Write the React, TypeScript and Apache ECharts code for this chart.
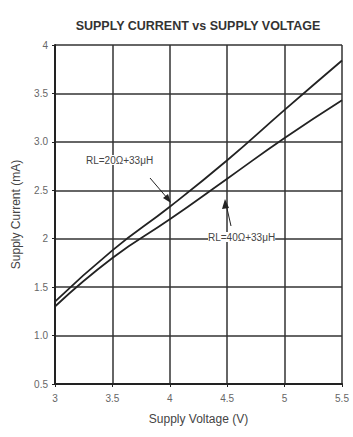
import React, { useEffect, useRef } from "react";
import * as echarts from "echarts";

const voltages = [3, 3.5, 4, 4.5, 5, 5.5];
const currentRL20 = [1.35, 1.88, 2.33, 2.81, 3.33, 3.84];
const currentRL40 = [1.3, 1.8, 2.2, 2.62, 3.04, 3.43];
const xTickLabels = ["3", "3.5", "4", "4.5", "5", "5.5"];
const yTickLabels: Record<string, string> = {
  "0.5": "0.5", "1": "1.0", "1.5": "1.5", "2": "2", "2.5": "2.5", "3": "3.0", "3.5": "3.5", "4": "4",
};

export default function App() {
  const ref = useRef<HTMLDivElement>(null);
  useEffect(() => {
    const chart = echarts.init(ref.current!, null, { renderer: "svg" });
    const font = "Liberation Sans";
    chart.setOption({
      animation: false,
      backgroundColor: "#ffffff",
      title: {
        text: "SUPPLY CURRENT vs SUPPLY VOLTAGE",
        left: 193, top: 14, textAlign: "center",
        textStyle: { fontSize: 12.5, fontWeight: "bold", color: "#333", fontFamily: font },
      },
      grid: { left: 55, right: 11, top: 45, bottom: 53 },
      xAxis: {
        type: "value", min: 3, max: 5.5, interval: 0.5,
        name: "Supply Voltage (V)", nameLocation: "middle", nameGap: 29,
        nameTextStyle: { fontSize: 12, color: "#444", fontFamily: font },
        axisLine: { lineStyle: { color: "#222", width: 2 } },
        axisTick: { show: true, length: 3, lineStyle: { color: "#222" } },
        axisLabel: {
          fontSize: 10, color: "#666", fontFamily: font, margin: 9,
          formatter: (v: number) => xTickLabels[voltages.indexOf(v)] ?? "",
        },
        splitLine: { show: true, lineStyle: { color: "#333", width: 1.5 } },
      },
      yAxis: {
        type: "value", min: 0.5, max: 4, interval: 0.5,
        name: "Supply Current (mA)", nameLocation: "middle", nameGap: 33,
        nameTextStyle: { fontSize: 12, color: "#444", fontFamily: font },
        axisLine: { show: true, lineStyle: { color: "#222", width: 2 } },
        axisTick: { show: true, length: 3, lineStyle: { color: "#222" } },
        axisLabel: {
          fontSize: 10, color: "#666", fontFamily: font, margin: 7,
          formatter: (v: number) => yTickLabels[String(v)] ?? String(v),
        },
        splitLine: { show: true, lineStyle: { color: "#333", width: 1.5 } },
      },
      series: [
        {
          name: "RL=20Ω+33μH", type: "line", smooth: true, showSymbol: false,
          data: voltages.map((v, i) => [v, currentRL20[i]]),
          lineStyle: { color: "#222", width: 1.8 },
        },
        {
          name: "RL=40Ω+33μH", type: "line", smooth: true, showSymbol: false,
          data: voltages.map((v, i) => [v, currentRL40[i]]),
          lineStyle: { color: "#222", width: 1.8 },
        },
      ],
      graphic: [
        {
          type: "text", left: 86, top: 155, z: 100,
          style: { text: "RL=20Ω+33μH", fill: "#444", font: `10px ${font}`, backgroundColor: "#fff" },
        },
        { type: "line", z: 100, shape: { x1: 150, y1: 178, x2: 168, y2: 199 }, style: { stroke: "#222", lineWidth: 1 } },
        { type: "polygon", z: 100, shape: { points: [[171, 203], [163, 198], [168, 194]] }, style: { fill: "#222" } },
        {
          type: "text", left: 208, top: 232, z: 100,
          style: { text: "RL=40Ω+33μH", fill: "#444", font: `10px ${font}`, backgroundColor: "#fff" },
        },
        { type: "line", z: 100, shape: { x1: 231, y1: 226, x2: 226, y2: 204 }, style: { stroke: "#222", lineWidth: 1 } },
        { type: "polygon", z: 100, shape: { points: [[225, 199], [222, 209], [229, 208]] }, style: { fill: "#222" } },
      ],
    });
    return () => chart.dispose();
  }, []);
  return (
    <div
      ref={ref}
      style={{ position: "absolute", left: 0, top: 0, width: 353, height: 437 }}
    />
  );
}
